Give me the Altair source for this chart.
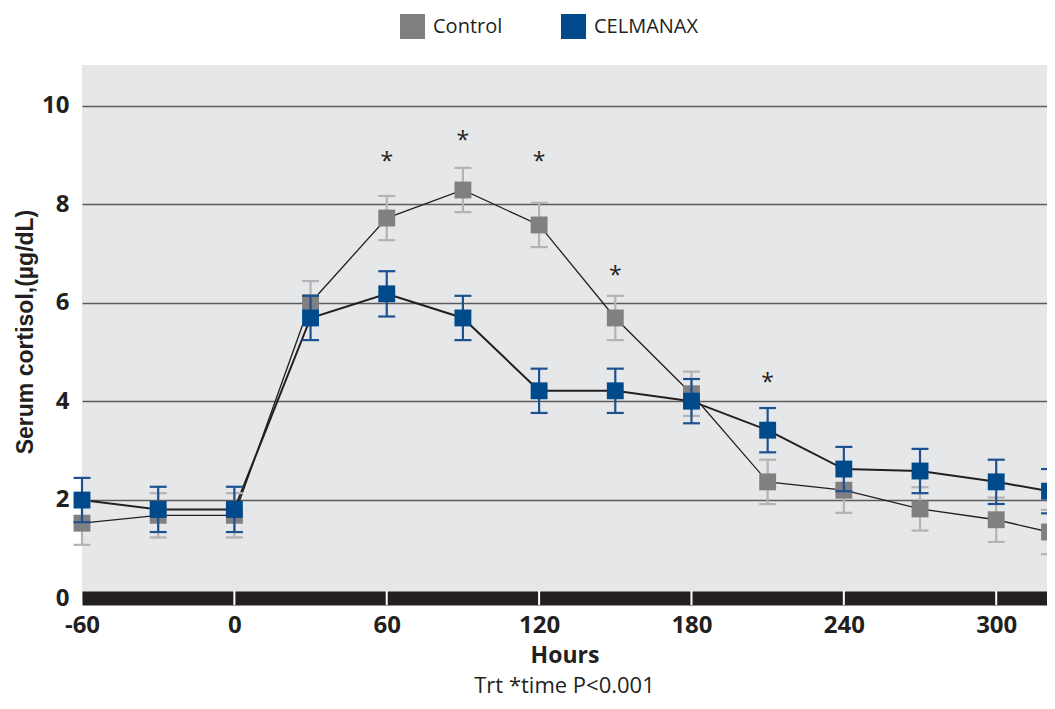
import altair as alt
import pandas as pd

# ---- data ----
times = [-60, -30, 0, 30, 60, 90, 120, 150, 180, 210, 240, 270, 300, 321]
control = [1.52, 1.68, 1.68, 6.00, 7.72, 8.29, 7.58, 5.69, 4.15, 2.36, 2.19, 1.81, 1.59, 1.34]
control_err = [0.44, 0.45, 0.45, 0.44, 0.45, 0.45, 0.45, 0.45, 0.45, 0.45, 0.46, 0.44, 0.45, 0.45]
celmanax = [1.99, 1.80, 1.80, 5.69, 6.18, 5.69, 4.21, 4.21, 4.00, 3.41, 2.62, 2.58, 2.36, 2.17]
celmanax_err = [0.45, 0.46, 0.46, 0.45, 0.46, 0.45, 0.45, 0.45, 0.45, 0.45, 0.45, 0.45, 0.45, 0.45]
star_times = [60, 90, 120, 150, 210]
star_values = [8.98, 9.40, 8.98, 6.67, 4.49]
x_ticks = [-60, 0, 60, 120, 180, 240, 300]
y_ticks = [0, 2, 4, 6, 8, 10]
series_names = ["Control", "CELMANAX"]
series_colors = ["#808083", "#004a8b"]
whisker_colors = ["#b2b3b5", "#1d5190"]
line_widths = [1.3, 2.0]

TXT = "#231f20"

rows = []
for name, vals, errs in [("Control", control, control_err), ("CELMANAX", celmanax, celmanax_err)]:
    for t, v, e in zip(times, vals, errs):
        rows.append({"series": name, "time": t, "value": v, "lo": v - e, "hi": v + e})
df = pd.DataFrame(rows)
stars = pd.DataFrame({"time": star_times, "value": star_values})
notches = pd.DataFrame({"time": x_ticks[1:]})

x_scale = alt.Scale(domain=[-60, 320], nice=False, zero=False)
y_scale = alt.Scale(domain=[0, 10.83], nice=False, zero=True)

x_axis = alt.Axis(
    values=x_ticks, title="Hours", grid=False, ticks=False, tickSize=0,
    domainColor=TXT, domainWidth=14,
    labelExpr="'' + datum.value",
    labelFont="Open Sans", labelFontWeight="bold", labelFontSize=24, labelColor=TXT,
    labelPadding=15, labelFlush=False,
    titleFont="Open Sans", titleFontWeight="bold", titleFontSize=23, titleColor=TXT,
    titlePadding=7,
)
y_axis = alt.Axis(
    values=y_ticks, title="Serum cortisol,(µg/dL)", grid=True, gridColor="#5b5b5d", gridWidth=1.5,
    domain=False, ticks=False, tickSize=0,
    labelFont="Open Sans", labelFontWeight="bold", labelFontSize=24, labelColor=TXT,
    labelPadding=13,
    titleFont="Liberation Sans", titleFontWeight="bold", titleFontSize=23, titleColor=TXT,
    titlePadding=4,
)

X = alt.X("time:Q", scale=x_scale, axis=x_axis)


def Y(field):
    return alt.Y(f"{field}:Q", scale=y_scale, axis=y_axis)


layers = []
for name, lw in zip(series_names, line_widths):
    layers.append(alt.Chart(df).transform_filter(alt.datum.series == name)
                  .mark_line(color=TXT, strokeWidth=lw).encode(x=X, y=Y("value")))

for name, wcol in zip(series_names, whisker_colors):
    sub = alt.Chart(df).transform_filter(alt.datum.series == name)
    layers.append(sub.mark_rule(color=wcol, strokeWidth=2.2).encode(x=X, y=Y("lo"), y2="hi:Q"))
    layers.append(sub.mark_tick(color=wcol, orient="horizontal", size=17, thickness=2.2, opacity=1).encode(x=X, y=Y("lo")))
    layers.append(sub.mark_tick(color=wcol, orient="horizontal", size=17, thickness=2.2, opacity=1).encode(x=X, y=Y("hi")))
    layers.append(sub.mark_square(size=285, opacity=1).encode(
        x=X, y=Y("value"),
        color=alt.Color("series:N", scale=alt.Scale(domain=series_names, range=series_colors),
                        legend=alt.Legend(title=None, orient="none", legendX=318, legendY=-51,
                                          direction="horizontal", symbolType="square", symbolSize=625,
                                          symbolStrokeWidth=0, symbolOpacity=1,
                                          labelFont="Open Sans", labelFontSize=20, labelColor=TXT,
                                          labelOffset=8, columnPadding=58, padding=0)),
    ))

star_layer = alt.Chart(stars).mark_text(text="*", font="Open Sans", fontSize=23, color=TXT,
                                        baseline="alphabetic", dy=13).encode(x=X, y=Y("value"))
notch_layer = alt.Chart(notches).mark_tick(color="white", orient="vertical", size=14, thickness=2, opacity=1).encode(
    x=X, y=alt.datum(0))

chart = alt.layer(*layers, star_layer, notch_layer).properties(
    width=965, height=533,
    autosize=alt.AutoSizeParams(type="none"),
    padding={"left": 74, "top": 57, "right": 0, "bottom": 103},
    title=alt.TitleParams("Trt *time P<0.001", orient="bottom", anchor="middle", font="Open Sans",
                          fontSize=22, fontWeight="normal", color=TXT, offset=9),
).configure_view(fill="#e6e7e9", stroke=None)

chart.save("out.html", embed_options={"renderer": "svg", "actions": False})
